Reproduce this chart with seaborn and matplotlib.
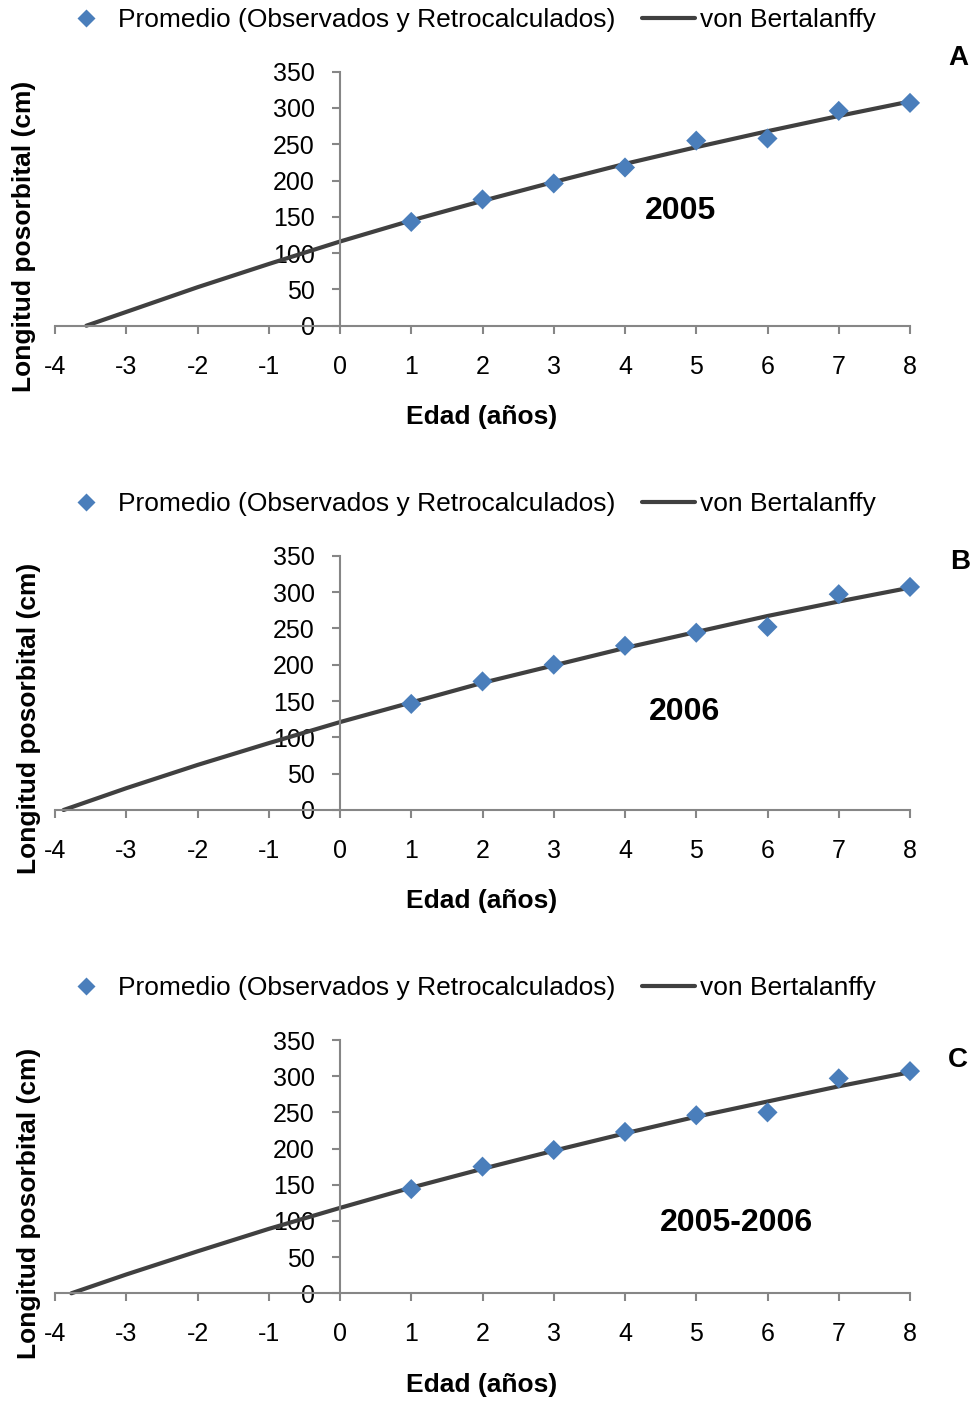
import matplotlib
matplotlib.use("Agg")
import matplotlib.pyplot as plt
from matplotlib.lines import Line2D
import seaborn as sns
import pandas as pd

# Mean length at age (observed and back-calculated), ages 1-8
ages_obs = [1, 2, 3, 4, 5, 6, 7, 8]
obs_2005 = [143, 174, 196, 218, 255, 258, 296, 307]
obs_2006 = [146, 177, 200, 226, 244, 252, 297, 307]
obs_2005_2006 = [144, 175, 198, 223, 246, 250, 297, 307]

# Fitted von Bertalanffy curves, from t0 up to age 8
fit_ages_2005 = [-3.56, -3, -2, -1, 0, 1, 2, 3, 4, 5, 6, 7, 8]
fit_len_2005 = [0, 19, 53, 85, 116, 145, 172, 198, 223, 246, 268, 289, 309]
fit_ages_2006 = [-3.88, -3, -2, -1, 0, 1, 2, 3, 4, 5, 6, 7, 8]
fit_len_2006 = [0, 30, 62, 92, 121, 148, 175, 199, 223, 245, 267, 287, 306]
fit_ages_2005_2006 = [-3.77, -3, -2, -1, 0, 1, 2, 3, 4, 5, 6, 7, 8]
fit_len_2005_2006 = [0, 26, 58, 89, 118, 146, 172, 197, 221, 244, 265, 286, 305.5]

x_ticks = list(range(-4, 9))
y_ticks = list(range(0, 351, 50))
panel_letters = ["A", "B", "C"]
period_labels = ["2005", "2006", "2005-2006"]
legend_labels = ["Promedio (Observados y Retrocalculados)", "von Bertalanffy"]
x_title = "Edad (años)"
y_title = "Longitud posorbital (cm)"

sns.set_style("white")
plt.rcParams["font.family"] = ["Liberation Sans", "DejaVu Sans"]
plt.rcParams["axes.unicode_minus"] = False
plt.rcParams["text.color"] = "black"

W, H = 977, 1402
fig = plt.figure(figsize=(W / 100, H / 100), dpi=100)


def fx(px):
    return px / W


def fy(py):
    return 1 - py / H


MARKER_C = "#4A7EBB"
LINE_C = "#404040"
AXIS_C = "#868686"

layout = [
    dict(top=71.7, bottom=325.7, leg_y=20, ylab=(24, 236), xlab_y=417,
         letter=(958, 58), period=(681, 211)),
    dict(top=555.7, bottom=810, leg_y=504, ylab=(29, 718), xlab_y=901,
         letter=(960, 562), period=(685, 712)),
    dict(top=1040, bottom=1293.3, leg_y=988, ylab=(29, 1203), xlab_y=1385,
         letter=(958, 1060), period=(736, 1223)),
]
obs_sets = [obs_2005, obs_2006, obs_2005_2006]
fit_sets = [(fit_ages_2005, fit_len_2005), (fit_ages_2006, fit_len_2006),
            (fit_ages_2005_2006, fit_len_2005_2006)]

for i, lay in enumerate(layout):
    ax = fig.add_axes([fx(55), fy(lay["bottom"]), (910 - 55) / W,
                       (lay["bottom"] - lay["top"]) / H])
    df_fit = pd.DataFrame({"edad": fit_sets[i][0], "long": fit_sets[i][1]})
    df_obs = pd.DataFrame({"edad": ages_obs, "long": obs_sets[i]})
    sns.lineplot(data=df_fit, x="edad", y="long", ax=ax, color=LINE_C,
                 linewidth=3, estimator=None, sort=False, legend=False)
    sns.scatterplot(data=df_obs, x="edad", y="long", ax=ax, marker="D", s=105,
                    color=MARKER_C, edgecolor="none", zorder=4, legend=False)
    for ln in ax.lines:
        ln.set_clip_on(False)
    for coll in ax.collections:
        coll.set_clip_on(False)

    ax.set_xlim(-4, 8)
    ax.set_ylim(0, 350)
    ax.set_xticks(x_ticks)
    ax.set_yticks(y_ticks)
    ax.set_xlabel("")
    ax.set_ylabel("")
    for s in ("top", "right"):
        ax.spines[s].set_visible(False)
    ax.spines["left"].set_position(("data", 0))
    for s in ("left", "bottom"):
        ax.spines[s].set_color(AXIS_C)
        ax.spines[s].set_linewidth(1.5)
    ax.tick_params(axis="both", direction="out", length=6, width=1.5,
                   color=AXIS_C, labelsize=18, labelcolor="black",
                   bottom=True, left=True)
    ax.tick_params(axis="y", pad=12)
    ax.tick_params(axis="x", pad=15)
    ax.patch.set_alpha(0)

    handles = [
        Line2D([], [], linestyle="none", marker="D", markersize=9,
               markerfacecolor=MARKER_C, markeredgecolor="none"),
        Line2D([], [], color=LINE_C, linewidth=3),
    ]
    fig.legend(handles, legend_labels, loc="center left",
               bbox_to_anchor=(fx(60), fy(lay["leg_y"])), ncol=2,
               frameon=False, fontsize=19, handlelength=2.0,
               handletextpad=0.2, columnspacing=1.0, borderpad=0,
               borderaxespad=0, labelcolor="black")

    fig.text(fx(lay["ylab"][0]), fy(lay["ylab"][1]), y_title, rotation=90,
             ha="center", va="center", fontsize=19, fontweight="bold")
    fig.text(fx(482), fy(lay["xlab_y"]), x_title, ha="center", va="center",
             fontsize=19, fontweight="bold")
    fig.text(fx(lay["letter"][0]), fy(lay["letter"][1]), panel_letters[i],
             ha="center", va="center", fontsize=20, fontweight="bold")
    fig.text(fx(lay["period"][0]), fy(lay["period"][1]), period_labels[i],
             ha="center", va="center", fontsize=23, fontweight="bold")

fig.savefig("out.png", dpi=100)
